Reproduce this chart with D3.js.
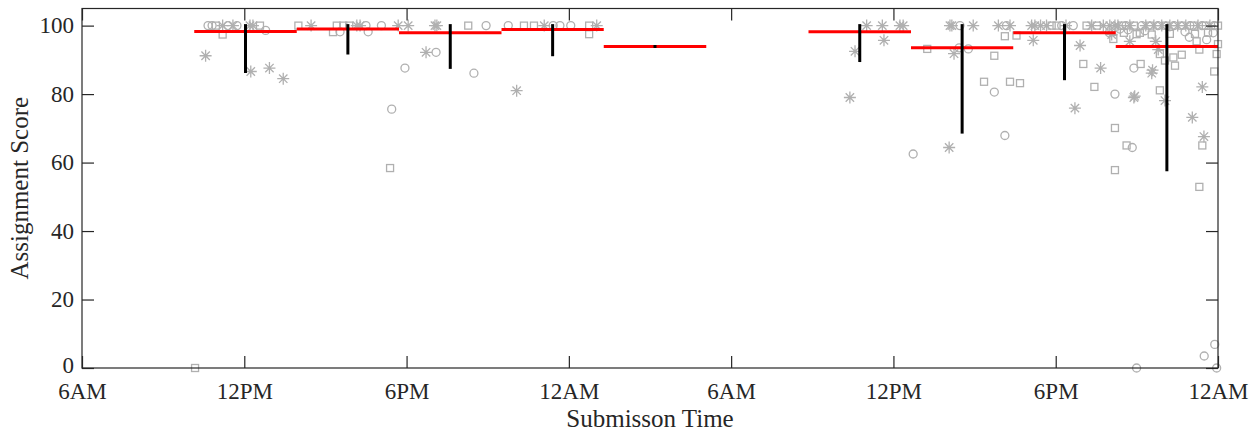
<!DOCTYPE html>
<html>
<head>
<meta charset="utf-8">
<script src="https://cdn.jsdelivr.net/npm/d3@7"></script>
<style>
  html, body { margin: 0; padding: 0; background: #fff; }
  svg { display: block; }
  text { font-family: "Liberation Serif", "Times New Roman", serif; fill: #262626; }
</style>
</head>
<body>
<svg id="chart" width="1258" height="432"></svg>
<script>
// Submission time in hours since midnight of day one, paired with the score.
const asteriskPts = [
  [10.57,91.2],[11.20,100],[11.58,100],[12.21,100],[12.32,100],[12.24,86.6],[12.93,87.6],[13.44,84.5],
  [14.47,100],[16.16,100],[16.28,100],[17.69,100],[18.06,100],[18.72,92.2],[19.05,100],[19.12,100],
  [22.07,81.0],[23.09,100],[25.03,100],
  [34.39,79.0],[34.58,92.5],[35.01,100],[35.59,100],[35.65,95.7],[36.24,100],[36.36,100],[38.06,64.4],
  [38.09,100],[38.16,100],[38.24,91.8],[38.95,100],[39.88,100],[40.31,100],[41.17,95.7],[41.11,100],
  [41.23,100],[41.44,100],[41.66,100],[42.38,100],[42.71,75.9],[42.90,94.2],[43.33,100],[43.66,87.6],
  [43.76,100],[44.00,100],[44.07,97.4],[44.19,100],[44.74,95.4],[44.89,79.0],[44.92,79.4],[45.55,86.1],
  [45.58,87.0],[45.70,95.4],[45.79,93.0],[46.04,78.1],[47.05,73.2],[47.42,82.1],[47.48,67.6],
  [44.30,100],[44.74,100],[45.33,100],[45.63,100],[45.92,100],[46.22,100],[46.51,100],[46.81,100],
  [47.26,100],[47.70,100]
];
const circlePts = [
  [10.66,100],[10.81,100],[11.40,100],[11.73,100],[12.79,98.6],[15.54,98.2],[16.50,100],[16.58,98.2],
  [17.07,100],[17.45,75.6],[17.94,87.6],[19.09,92.2],[20.49,86.1],[20.94,100],[21.76,100],[23.42,100],
  [23.67,100],[24.07,100],
  [36.73,62.5],[38.43,93.5],[38.46,100],[38.77,93.2],[39.73,80.6],[40.12,67.9],[40.18,100],[42.22,100],
  [42.65,100],[43.98,97.9],[44.19,80.0],[44.37,99.0],[44.68,98.8],[44.83,64.4],[44.89,87.6],[44.99,0],
  [46.94,96.6],[47.49,3.5],[47.58,95.9],[47.82,97.9],[47.88,6.9],[47.95,0],
  [44.60,100],[45.19,100],[45.78,100],[46.37,100],[46.96,100],[47.41,100],[47.85,100],[45.30,98.5],[46.78,98.2]
];
const squarePts = [
  [10.18,0],[10.95,100],[11.20,97.4],[12.58,100],[14.00,100],[15.28,98.1],[15.42,100],[15.66,100],
  [15.88,100],[17.39,58.4],[20.28,100],[22.34,100],[22.71,100],[24.75,100],[24.75,97.5],
  [37.25,93.2],[39.35,83.6],[39.73,91.2],[40.12,96.9],[40.31,83.6],[40.55,97.1],[40.68,83.2],[41.85,100],
  [42.03,100],[43.02,88.8],[43.14,100],[43.43,82.1],[43.52,100],[44.13,96.1],[44.19,70.1],[44.19,57.8],
  [44.62,65.0],[44.99,97.5],[45.11,97.9],[45.14,88.8],[45.55,97.4],[45.85,91.7],[45.85,81.1],[46.04,89.8],
  [46.35,90.7],[46.41,88.3],[46.66,91.5],[47.21,95.4],[47.31,93.0],[47.31,52.9],[47.42,65.0],[47.86,86.6],
  [47.95,91.7],[48.0,94.6],
  [44.45,100],[44.89,100],[45.48,100],[46.07,100],[46.66,100],[47.11,100],[47.55,100],[48.0,100],
  [44.52,97.9],[46.22,97.6],[47.15,97.6],[47.63,97.9]
];

// Time bins (hours) with the mean score and its standard deviation per bin.
const binEdges = [10.15, 13.94, 17.72, 21.51, 25.29, 29.08, 32.86, 36.65, 40.43, 44.22, 48.0];
const binMean  = [98.3, 99.0, 97.9, 98.9, 93.9, null, 98.2, 93.5, 97.9, 93.9];
const binStd   = [11.7, 7.0, 10.1, 7.4, 0, null, 8.4, 24.6, 13.4, 36.0];

const xTickHours  = [6, 12, 18, 24, 30, 36, 42, 48];
const xTickLabels = ["6AM", "12PM", "6PM", "12AM", "6AM", "12PM", "6PM", "12AM"];
const yTicks = [0, 20, 40, 60, 80, 100];

const margin = { left: 82, right: 40, top: 8.5, bottom: 64 };
const W = 1258, H = 432;
const svg = d3.select("#chart");

const x = d3.scaleLinear().domain([6, 48]).range([margin.left, W - margin.right]);
const y = d3.scaleLinear().domain([0, 105]).range([H - margin.bottom, margin.top]);

const gray = "#b0b0b0";
const tickLen = 12;
const tickFont = 23;
const titleFont = 25;

// Scatter markers
const marks = svg.append("g");
marks.selectAll("circle.pt").data(circlePts).join("circle")
  .attr("class", "pt")
  .attr("cx", d => x(d[0])).attr("cy", d => y(d[1])).attr("r", 4)
  .attr("fill", "none").attr("stroke", gray).attr("stroke-width", 1.3);
marks.selectAll("rect.pt").data(squarePts).join("rect")
  .attr("class", "pt")
  .attr("x", d => x(d[0]) - 3.5).attr("y", d => y(d[1]) - 3.5)
  .attr("width", 7).attr("height", 7)
  .attr("fill", "none").attr("stroke", gray).attr("stroke-width", 1.3);
const star = "M-6,0H6M0,-6V6M-4.2,-4.2L4.2,4.2M-4.2,4.2L4.2,-4.2";
marks.selectAll("path.pt").data(asteriskPts).join("path")
  .attr("class", "pt")
  .attr("transform", d => `translate(${x(d[0])},${y(d[1])})`)
  .attr("d", star).attr("fill", "none").attr("stroke", gray).attr("stroke-width", 1.3);

// Per-bin mean (red step) and spread (black bar)
const bins = binMean.map((m, i) => ({ x0: binEdges[i], x1: binEdges[i + 1], mean: m, sd: binStd[i] }))
  .filter(b => b.mean !== null);

svg.append("g").selectAll("line").data(bins).join("line")
  .attr("x1", d => x(d.x0)).attr("x2", d => x(d.x1))
  .attr("y1", d => y(d.mean)).attr("y2", d => y(d.mean))
  .attr("stroke", "#ff0000").attr("stroke-width", 3);

svg.append("g").selectAll("line").data(bins).join("line")
  .attr("x1", d => x((d.x0 + d.x1) / 2)).attr("x2", d => x((d.x0 + d.x1) / 2))
  .attr("y1", d => y(Math.min(100, d.mean + d.sd)))
  .attr("y2", d => y(Math.max(0, d.mean - d.sd)))
  .attr("stroke", "#000").attr("stroke-width", 3).attr("stroke-linecap", "square");

// Axes box with inward ticks on all four sides
const axisColor = "#262626";
const box = svg.append("g");
box.append("rect")
  .attr("x", x(6)).attr("y", y(105))
  .attr("width", x(48) - x(6)).attr("height", y(0) - y(105))
  .attr("fill", "none").attr("stroke", axisColor).attr("stroke-width", 1.2);

const xAxisB = d3.axisBottom(x).tickValues(xTickHours).tickFormat((d, i) => xTickLabels[i])
  .tickSizeInner(-tickLen).tickSizeOuter(0).tickPadding(tickLen + 3);
const gxb = svg.append("g").attr("transform", `translate(0,${y(0)})`).call(xAxisB);
gxb.select(".domain").remove();
gxb.selectAll("line").attr("stroke", axisColor).attr("stroke-width", 1.2);
gxb.selectAll("text").attr("font-size", tickFont).attr("fill", axisColor)
  .style("font-family", "'Liberation Serif', serif");

const xAxisT = d3.axisTop(x).tickValues(xTickHours).tickFormat("")
  .tickSizeInner(-tickLen).tickSizeOuter(0);
const gxt = svg.append("g").attr("transform", `translate(0,${y(105)})`).call(xAxisT);
gxt.select(".domain").remove();
gxt.selectAll("line").attr("stroke", axisColor).attr("stroke-width", 1.2);

const yAxisL = d3.axisLeft(y).tickValues(yTicks)
  .tickSizeInner(-tickLen).tickSizeOuter(0).tickPadding(8);
const gyl = svg.append("g").attr("transform", `translate(${x(6)},0)`).call(yAxisL);
gyl.select(".domain").remove();
gyl.selectAll("line").attr("stroke", axisColor).attr("stroke-width", 1.2);
gyl.selectAll("text").attr("font-size", tickFont).attr("fill", axisColor)
  .style("font-family", "'Liberation Serif', serif");
// keep the bottom label clear of the first time label beneath it
gyl.selectAll(".tick").filter(d => d === 0).select("text").attr("dy", "0.18em");

const yAxisR = d3.axisRight(y).tickValues(yTicks).tickFormat("")
  .tickSizeInner(-tickLen).tickSizeOuter(0);
const gyr = svg.append("g").attr("transform", `translate(${x(48)},0)`).call(yAxisR);
gyr.select(".domain").remove();
gyr.selectAll("line").attr("stroke", axisColor).attr("stroke-width", 1.2);

// Axis titles
svg.append("text")
  .attr("x", (x(6) + x(48)) / 2).attr("y", 427)
  .attr("text-anchor", "middle").attr("font-size", titleFont)
  .text("Submisson Time");
svg.append("text")
  .attr("transform", `translate(28,${(y(0) + y(105)) / 2}) rotate(-90)`)
  .attr("text-anchor", "middle").attr("font-size", titleFont)
  .text("Assignment Score");
</script>
</body>
</html>
